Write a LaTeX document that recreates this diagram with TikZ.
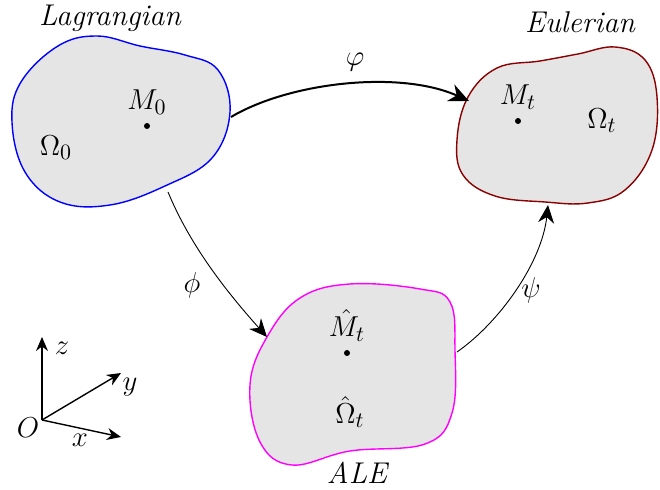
\documentclass[tikz,border=0pt]{standalone}
\usepackage{amsmath}
\usepackage{tikz}
\usetikzlibrary{arrows.meta,positioning}
\definecolor{LagBlue}{HTML}{0000FF}
\definecolor{EulRed}{HTML}{8B0000}
\definecolor{AleMagenta}{HTML}{FF00FF}
\tikzset{
  blob/.style={fill=gray!20,line width=0.7pt},
  lbl/.style={font=\fontsize{15}{18}\selectfont,inner sep=0pt},
  pt/.style={circle,fill=black,inner sep=0pt,minimum size=3pt},
  mapthick/.style={line width=1pt,-{Stealth[length=10pt,width=9pt]}},
  mapthin/.style={line width=0.45pt,-{Stealth[length=9pt,width=8pt]}},
  axis/.style={line width=0.7pt,-{Stealth[length=7pt,width=6pt]}},
}

\begin{document}
\begin{tikzpicture}[x=0.5pt,y=-0.5pt]
  \useasboundingbox (0,0) rectangle (660,490);
  \draw[blob,draw=LagBlue] plot[smooth cycle,tension=0.65] coordinates
    {(12,122) (21,82) (58,46) (97,36) (140,46) (185,55) (218,70) (230,112)
     (212,158) (165,186) (110,205) (60,202) (25,172)};
  \draw[blob,draw=EulRed] plot[smooth cycle,tension=0.65] coordinates
    {(457,140) (468,97) (497,68) (540,61) (578,54) (615,47) (645,60) (657,97)
     (652,150) (625,190) (588,203) (545,202) (495,196) (463,175)};
  \draw[blob,draw=AleMagenta] plot[smooth cycle,tension=0.65] coordinates
    {(300,298) (350,284) (420,289) (450,302) (455,350) (452,413) (425,444)
     (350,451) (292,465) (260,442) (250,385) (267,337)};
  \node[lbl] (lag) at (110,18) {\itshape Lagrangian};
  \node[lbl] (eul) at (580,22) {\itshape Eulerian};
  \node[lbl] (ale) at (357,473) {\itshape ALE};
  \node[pt] (m0) at (147,126) {};
  \node[lbl,above=4pt of m0] (m0lbl) {$M_0$};
  \node[lbl] (om0) at (56,148) {$\Omega_0$};
  \node[pt] (mt) at (518,121) {};
  \node[lbl,above=4pt of mt] (mtlbl) {$M_t$};
  \node[lbl] (omt) at (602,121) {$\Omega_t$};
  \node[pt] (mh) at (347,353) {};
  \node[lbl,above=4pt of mh] (mhlbl) {$\hat{M}_t$};
  \node[lbl] (omh) at (350,412) {$\hat{\Omega}_t$};
  \coordinate (lagR) at (231,117);
  \coordinate (lagB) at (168,192);
  \coordinate (eulL) at (469,101);
  \coordinate (eulB) at (548,205);
  \coordinate (aleL) at (267,337);
  \coordinate (aleR) at (457,352);
  \draw[mapthick] (lagR) .. controls (290,82) and (400,70) .. (eulL);
  \draw[mapthin] (lagB) .. controls (190,245) and (225,290) .. (aleL);
  \draw[mapthin] (aleR) .. controls (500,322) and (542,262) .. (eulB);
  \node[lbl] (varphi) at (355,62) {$\varphi$};
  \node[lbl] (phi) at (192,285) {$\phi$};
  \node[lbl] (psi) at (531,290) {$\psi$};
  \coordinate (o) at (42,420);
  \coordinate (ez) at (42,337);
  \coordinate (ey) at (121,373);
  \coordinate (ex) at (121,437);
  \draw[axis] (o) -- (ez);
  \draw[axis] (o) -- (ey);
  \draw[axis] (o) -- (ex);
  \node[lbl] (olbl) at (28,428) {$O$};
  \node[lbl] (zlbl) at (62,348) {$z$};
  \node[lbl] (ylbl) at (130,387) {$y$};
  \node[lbl] (xlbl) at (80,440) {$x$};
\end{tikzpicture}
\end{document}
